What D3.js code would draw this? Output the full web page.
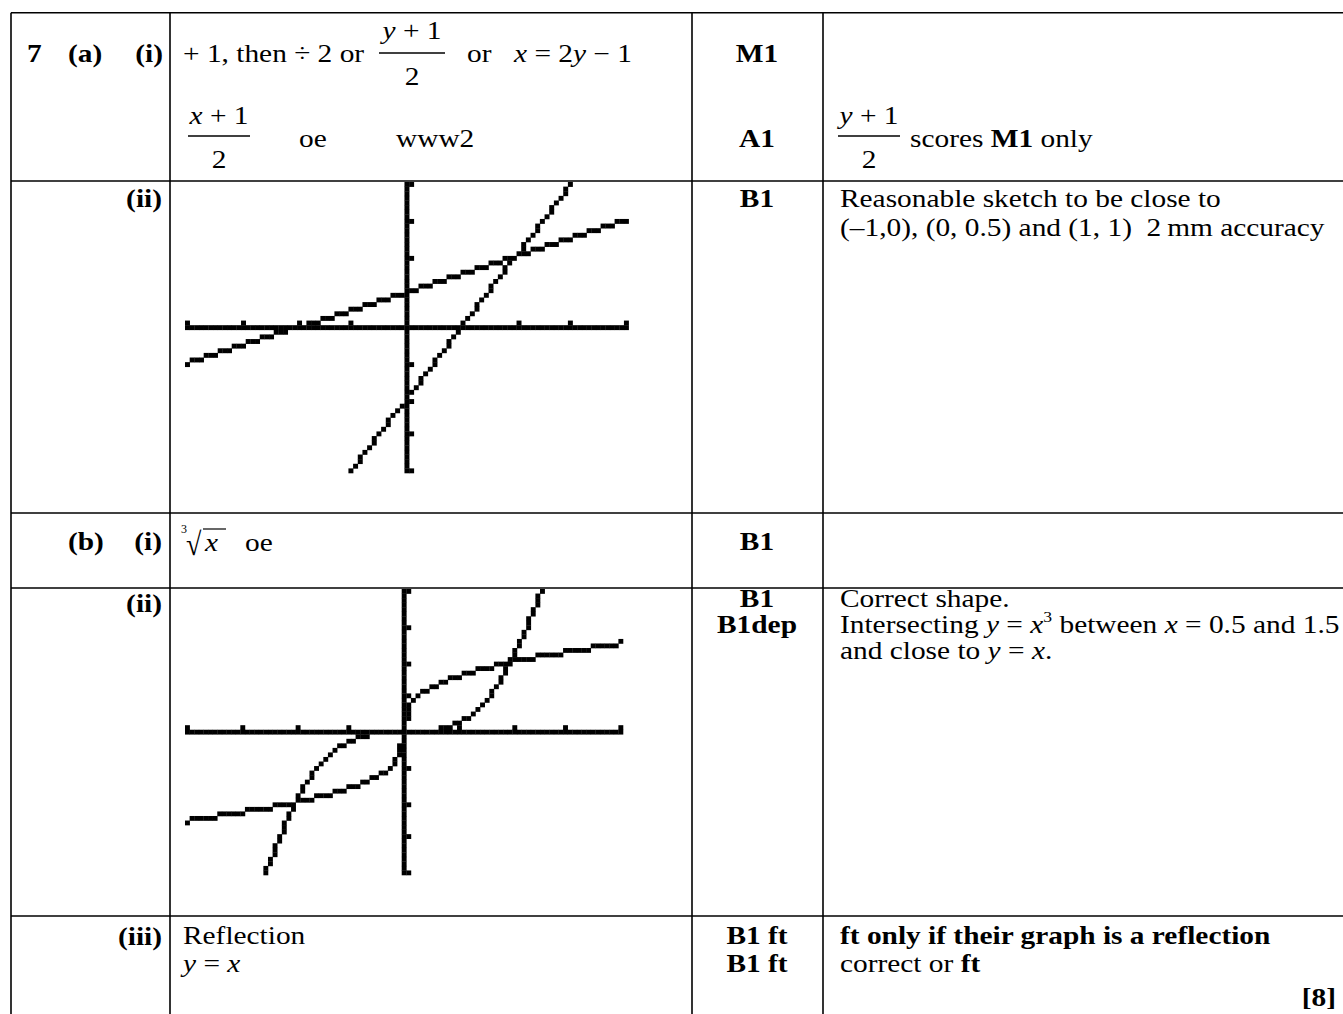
<!DOCTYPE html>
<html>
<head>
<meta charset="utf-8">
<script src="https://cdn.jsdelivr.net/npm/d3@7"></script>
<style>
body { margin: 0; background: #fff; }
svg { display: block; }
text { font-family: "Liberation Serif", "Times New Roman", serif; font-size: 25px; white-space: pre; fill: #000; }
</style>
</head>
<body>
<svg id="chart" width="1343" height="1014"></svg>
<script>
// calculator window used by both sketches
const screenX = [-2, 2], screenY = [-2, 2];
const axisTicks = [-2, -1.5, -1, -0.5, 0.5, 1, 1.5, 2];

// (a)(ii)  y = 2x - 1 and its inverse
const lineX = [-0.5, 1.5], lineY = [-2, 2];
const invX = [-2, 2], invY = [-0.5, 1.5];

// (b)(ii)  y = x^3 and its inverse
const cubeX = [-1.26, -1.1, -1, -0.9, -0.75, -0.6, -0.4, -0.2, 0, 0.2, 0.4, 0.6, 0.75, 0.9, 1, 1.1, 1.26];
const cubeY = [-2, -1.33, -1, -0.73, -0.42, -0.22, -0.06, -0.01, 0, 0.01, 0.06, 0.22, 0.42, 0.73, 1, 1.33, 2];
const rootX = [-2, -1.5, -1, -0.75, -0.5, -0.3, -0.15, -0.05, 0, 0.05, 0.15, 0.3, 0.5, 0.75, 1, 1.5, 2];
const rootY = [-1.26, -1.14, -1, -0.91, -0.79, -0.67, -0.53, -0.37, 0, 0.37, 0.53, 0.67, 0.79, 0.91, 1, 1.14, 1.26];

// table grid
const rowLines = [12.7, 181, 513, 588, 916];
const colLines = [11, 170, 692, 823];

const SX = 1.175; // the scan is a bit wider than plain Times
const svg = d3.select('#chart');

function zip(xs, ys) { return xs.map((x, i) => [x, ys[i]]); }

function txt(x, y, parts, anchor) {
	const t = svg.append('text')
		.attr('transform', 'translate(' + x + ',' + y + ') scale(' + SX + ',1)')
		.attr('text-anchor', anchor || 'start');
	if (typeof parts === 'string') parts = [[parts]];
	let raised = false;
	parts.forEach(function (p) {
		const st = p[1] || '';
		const ts = t.append('tspan').text(p[0]);
		if (st.indexOf('b') >= 0) ts.attr('font-weight', 'bold');
		if (st.indexOf('i') >= 0) ts.attr('font-style', 'italic');
		if (st === 'sup') { ts.attr('font-size', '15px').attr('dy', -11); raised = true; }
		else if (raised) { ts.attr('dy', 11); raised = false; }
	});
	return t;
}

function frac(cx, numY, barY, denY, halfW, num, den) {
	txt(cx, numY, num, 'middle');
	svg.append('line')
		.attr('x1', cx - halfW).attr('x2', cx + halfW)
		.attr('y1', barY).attr('y2', barY)
		.attr('stroke', '#000').attr('stroke-width', 1.3);
	txt(cx, denY, den, 'middle');
}

// draws a 95x63 calculator screen: axes, ticks and the curves, lit pixel by pixel
function drawScreen(box, curves) {
	const cols = 95, rows = 63;
	const pw = box.w / cols, ph = box.h / rows;
	const col = d3.scaleLinear().domain(screenX).range([0, cols - 1]);
	const row = d3.scaleLinear().domain(screenY).range([rows - 1, 0]);
	const g = svg.append('g');
	const cells = new Map();
	const put = (c, r) => {
		if (c >= 0 && c < cols && r >= 0 && r < rows) cells.set(c + ',' + r, [c, r]);
	};

	const c0 = Math.round(col(0)), r0 = Math.round(row(0));
	for (let c = 0; c < cols; c++) put(c, r0);
	for (let r = 0; r < rows; r++) put(c0, r);
	axisTicks.forEach(t => {
		put(Math.round(col(t)), r0 - 1);
		put(c0 + 1, Math.round(row(t)));
	});

	const probe = g.append('path').attr('fill', 'none').attr('stroke', 'none');
	curves.forEach(cv => {
		const line = d3.line().x(d => col(d[0])).y(d => row(d[1])).curve(cv.curve);
		probe.attr('d', line(cv.pts));
		const node = probe.node(), len = node.getTotalLength();
		const best = new Map();
		const steps = [];
		for (let s = 0; s < len; s += 0.05) steps.push(s);
		steps.push(len);
		steps.forEach(s => {
			const p = node.getPointAtLength(s);
			const c = Math.round(p.x), d = Math.abs(p.x - c);
			if (!best.has(c) || d < best.get(c).d) best.set(c, {d: d, r: Math.round(p.y)});
		});
		const keys = Array.from(best.keys()).sort((a, b) => a - b);
		keys.forEach((c, i) => {
			const b = best.get(c).r;
			put(c, b);
			if (i === 0) return;
			const pc = keys[i - 1], a = best.get(pc).r;
			const st = Math.sign(b - a);
			if (!st) return;
			for (let r = a + st; r !== b; r += st)
				put(Math.abs(r - a) <= Math.abs(b - a) / 2 ? pc : c, r);
		});
	});
	probe.remove();

	g.selectAll('rect')
		.data(Array.from(cells.values()))
		.join('rect')
		.attr('x', d => box.x + d[0] * pw)
		.attr('y', d => box.y + d[1] * ph)
		.attr('width', pw + 0.3)
		.attr('height', ph + 0.3)
		.attr('fill', '#000');
}

// grid
rowLines.forEach(y => {
	svg.append('line').attr('x1', colLines[0]).attr('x2', 1343).attr('y1', y).attr('y2', y)
		.attr('stroke', '#000').attr('stroke-width', 1.6);
});
colLines.forEach(x => {
	svg.append('line').attr('x1', x).attr('x2', x).attr('y1', rowLines[0]).attr('y2', 1014)
		.attr('stroke', '#000').attr('stroke-width', 1.6);
});

// 7 (a)(i)
txt(27, 62, [['7', 'b']]);
txt(68, 62, [['(a)', 'b']]);
txt(163, 62, [['(i)', 'b']], 'end');
txt(183, 62, '+ 1, then ÷ 2 or');
frac(412, 39, 53, 85, 33, [['y', 'i'], [' + 1']], '2');
txt(467, 62, 'or');
txt(514, 62, [['x', 'i'], [' = 2'], ['y', 'i'], [' − 1']]);
txt(757, 62, [['M1', 'b']], 'middle');

frac(219, 124, 136, 168, 31, [['x', 'i'], [' + 1']], '2');
txt(299, 147, 'oe');
txt(396, 147, 'www2');
txt(757, 147, [['A1', 'b']], 'middle');
frac(869, 124, 136, 168, 31, [['y', 'i'], [' + 1']], '2');
txt(910, 147, [['scores '], ['M1', 'b'], [' only']]);

// (a)(ii)
txt(162, 207, [['(ii)', 'b']], 'end');
txt(757, 207, [['B1', 'b']], 'middle');
txt(840, 207, 'Reasonable sketch to be close to');
txt(840, 236, '(–1,0), (0, 0.5) and (1, 1)  2\u2009mm accuracy');
drawScreen({x: 185, y: 182, w: 443.6, h: 291}, [
	{pts: zip(invX, invY), curve: d3.curveLinear},
	{pts: zip(lineX, lineY), curve: d3.curveLinear}
]);

// (b)(i)
txt(68, 550, [['(b)', 'b']]);
txt(162, 550, [['(i)', 'b']], 'end');
svg.append('text').attr('x', 181).attr('y', 533).style('font-size', '12px').text('3');
svg.append('text').attr('transform', 'translate(186,555) scale(1,1.15)').style('font-size', '28px').text('√');
svg.append('line').attr('x1', 203).attr('x2', 226).attr('y1', 529).attr('y2', 529)
	.attr('stroke', '#000').attr('stroke-width', 1.2);
txt(205, 551, [['x', 'i']]);
txt(245, 551, 'oe');
txt(757, 550, [['B1', 'b']], 'middle');

// (b)(ii)
txt(162, 612, [['(ii)', 'b']], 'end');
txt(757, 607, [['B1', 'b']], 'middle');
txt(757, 633, [['B1dep', 'b']], 'middle');
txt(840, 607, 'Correct shape.');
txt(840, 633, [['Intersecting '], ['y', 'i'], [' = '], ['x', 'i'], ['3', 'sup'], [' between '], ['x', 'i'], [' = 0.5 and 1.5']]);
txt(840, 659, [['and close to '], ['y', 'i'], [' = '], ['x', 'i'], ['.']]);
drawScreen({x: 185, y: 589, w: 438, h: 286}, [
	{pts: zip(rootX, rootY), curve: d3.curveMonotoneX},
	{pts: zip(cubeX, cubeY), curve: d3.curveMonotoneX}
]);

// (b)(iii)
txt(162, 945, [['(iii)', 'b']], 'end');
txt(183, 944, 'Reflection');
txt(183, 972, [['y', 'i'], [' = '], ['x', 'i']]);
txt(757, 944, [['B1 ft', 'b']], 'middle');
txt(757, 972, [['B1 ft', 'b']], 'middle');
txt(840, 944, [['ft only if their graph is a reflection', 'b']]);
txt(840, 972, [['correct or '], ['ft', 'b']]);
txt(1336, 1006, [['[8]', 'b']], 'end');
</script>
</body>
</html>
